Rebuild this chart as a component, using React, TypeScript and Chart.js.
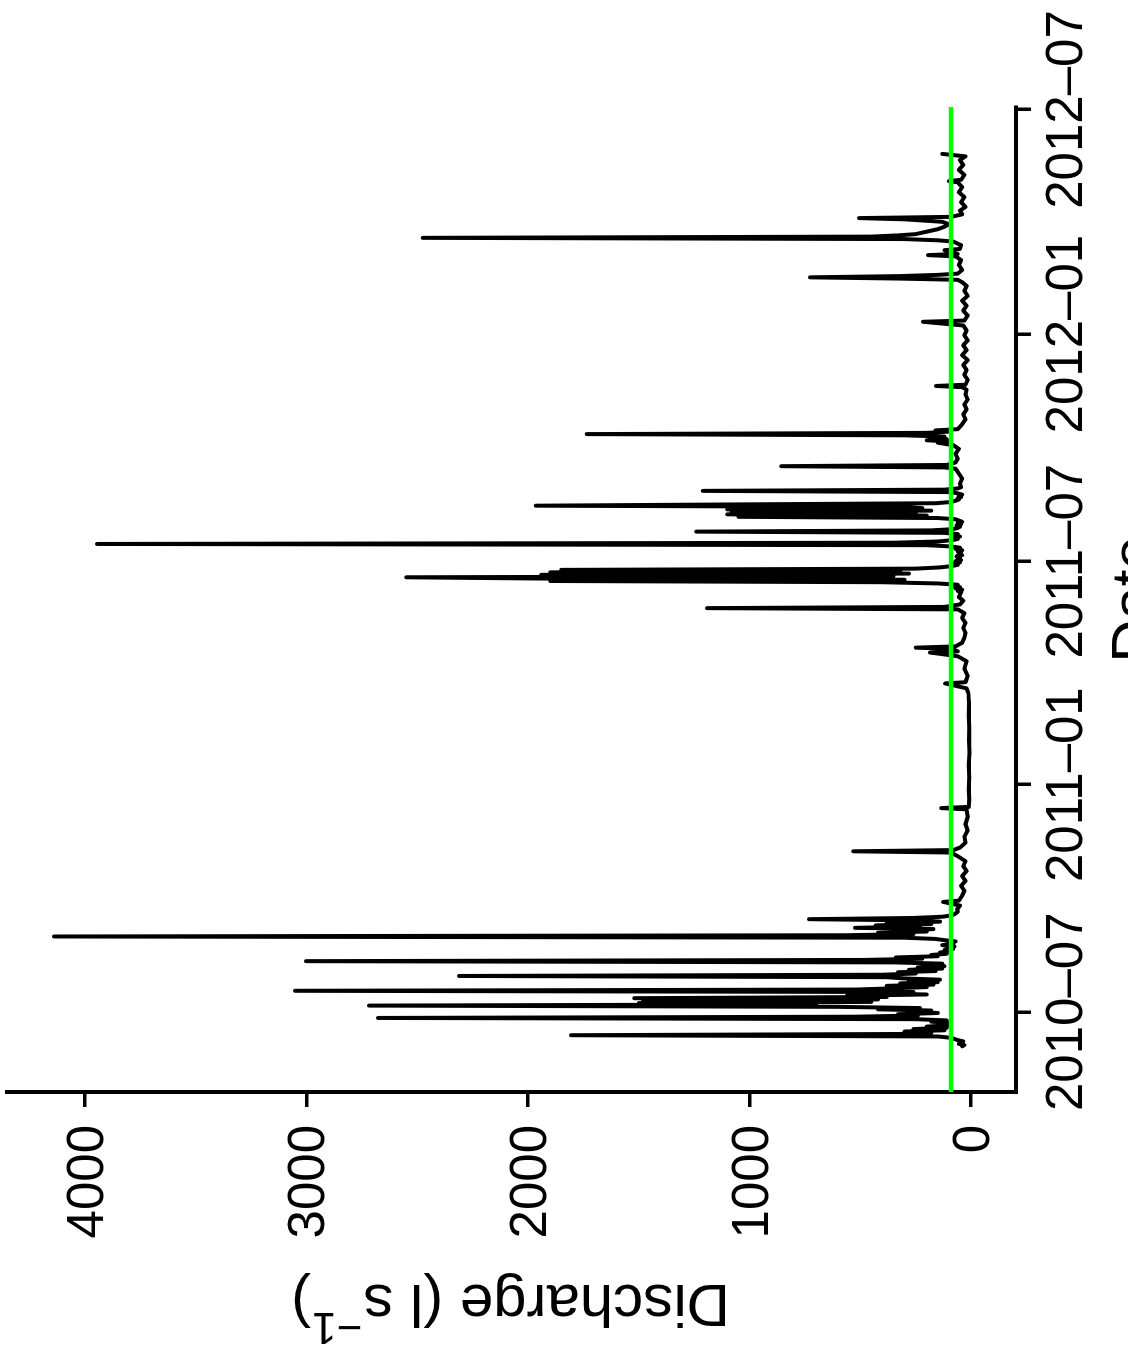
import { useEffect, useRef } from "react";
import { Chart, registerables } from "chart.js";

Chart.register(...registerables);

const FONT = "'Liberation Sans', Arial, Helvetica, sans-serif";

// Date axis ticks and their labels
const dateTicks = ["2010-07-01", "2011-01-01", "2011-07-01", "2012-01-01", "2012-07-01"];
const dateTickLabels = ["2010–07", "2011–01", "2011–07", "2012–01", "2012–07"];
const dateAxisStart = "2010-04-27";
const dateAxisEnd = "2012-07-03";

// Discharge axis ticks (l/s)
const dischargeTicks = [0, 1000, 2000, 3000, 4000];
const dischargeAxisMin = -203;
const dischargeAxisMax = 4352;

// Reference discharge level (l/s)
const baseflowThreshold = 90;

// Daily discharge through the 2010 melt season, first value on 2010-06-03
const season2010Start = "2010-06-03";
const season2010Flow = [
  40, 30, 55, 45, 35, 60, 75, 95, 150, 1806, 320, 180, 300, 120, 260, 110, 200, 100, 150, 90,
  180, 110, 250, 2677, 520, 240, 330, 150,
  280, 180, 420, 230, 600, 2718, 700, 1500, 450, 1480, 420, 1520, 380, 560, 200, 450, 260, 3052, 520, 350,
  200, 380, 170, 320, 150, 280, 140, 300, 380, 2311, 400, 250, 330, 160, 280, 130, 240, 120, 200, 130,
  350, 3002, 480, 220, 340, 150, 180, 110, 140, 90, 120, 80, 110, 75, 130, 80, 100, 70, 120, 160,
  300, 4140, 560, 260, 420, 200, 330, 170, 524, 230, 430, 180, 380, 140, 220, 731, 260, 130, 90, 75,
];

// Low-flow readings, autumn 2010 to spring 2011
const lowFlow2010Dates = [
  "2010-09-20", "2010-09-22", "2010-09-25", "2010-09-28", "2010-09-29", "2010-10-03", "2010-10-07",
  "2010-10-11", "2010-10-15", "2010-10-19", "2010-10-23", "2010-10-27", "2010-10-31", "2010-11-04",
  "2010-11-07", "2010-11-08", "2010-11-09", "2010-11-11", "2010-11-15", "2010-11-20", "2010-11-25",
  "2010-11-30", "2010-12-06", "2010-12-12", "2010-12-13", "2010-12-14", "2010-12-20", "2010-12-28",
  "2011-01-07", "2011-01-17", "2011-01-27", "2011-02-06", "2011-02-16", "2011-02-26", "2011-03-08",
  "2011-03-16", "2011-03-20", "2011-03-24", "2011-03-25", "2011-03-30", "2011-04-05", "2011-04-11",
  "2011-04-15", "2011-04-17", "2011-04-18", "2011-04-19", "2011-04-21", "2011-04-22", "2011-04-23",
  "2011-04-26", "2011-04-30", "2011-05-04", "2011-05-08", "2011-05-12", "2011-05-16", "2011-05-20",
  "2011-05-23", "2011-05-24", "2011-05-25", "2011-05-27", "2011-05-30", "2011-06-02",
];
const lowFlow2010Flow = [
  60, 63, 50, 126, 55, 40, 30,
  45, 25, 40, 20, 35, 25, 60,
  90, 532, 80, 50, 25, 30, 15,
  25, 15, 20, 135, 10, 8, 10,
  8, 10, 7, 9, 8, 10, 9,
  12, 20, 117, 25, 15, 30, 20,
  60, 140, 185, 60, 90, 250, 70,
  40, 30, 25, 35, 25, 40, 30,
  60, 1192, 120, 50, 35, 55,
];

// Daily discharge through the 2011 melt season, first value on 2011-06-06
const season2011Start = "2011-06-06";
const season2011Flow = [
  45, 60, 40, 70, 50, 90, 60, 150, 400, 1900,
  300, 1950, 2550, 350, 1940, 280, 1900, 320, 1850, 250,
  140, 90, 60, 80, 50, 70, 45, 60, 50, 65,
  40, 55, 45, 60, 40, 70, 50, 90, 200, 3946,
  350, 150, 90, 60, 80, 50, 70, 60, 120, 1240,
  180, 80, 60, 50, 65, 45, 60, 40, 55, 70,
  150, 1050, 200, 1100, 250, 1080, 180, 1100, 220, 300,
  1965, 1090, 160, 90, 70, 55, 60, 45, 55, 40,
  60, 90, 1211, 120, 60, 45,
];

// Readings from autumn 2011 to the end of the record
const lowFlow2011Dates = [
  "2011-09-02", "2011-09-06", "2011-09-10", "2011-09-14", "2011-09-15", "2011-09-16", "2011-09-17",
  "2011-09-19", "2011-09-22", "2011-09-26", "2011-09-30", "2011-10-03", "2011-10-05", "2011-10-06",
  "2011-10-07", "2011-10-08", "2011-10-09", "2011-10-10", "2011-10-11", "2011-10-12", "2011-10-13",
  "2011-10-14", "2011-10-15", "2011-10-16", "2011-10-20", "2011-10-24", "2011-10-28", "2011-11-01",
  "2011-11-05", "2011-11-09", "2011-11-13", "2011-11-17", "2011-11-19", "2011-11-20", "2011-11-21",
  "2011-11-25", "2011-11-29", "2011-12-03", "2011-12-07", "2011-12-11", "2011-12-15", "2011-12-19",
  "2011-12-23", "2011-12-27", "2011-12-31", "2012-01-04", "2012-01-08", "2012-01-11", "2012-01-12",
  "2012-01-16", "2012-01-20", "2012-01-24", "2012-01-28", "2012-02-01", "2012-02-05", "2012-02-09",
  "2012-02-12", "2012-02-14", "2012-02-15", "2012-02-16", "2012-02-17", "2012-02-18", "2012-02-19",
  "2012-02-22", "2012-02-26", "2012-03-01", "2012-03-04", "2012-03-05", "2012-03-06", "2012-03-09",
  "2012-03-10", "2012-03-13", "2012-03-16", "2012-03-17", "2012-03-18", "2012-03-19", "2012-03-20",
  "2012-03-21", "2012-03-22", "2012-03-24", "2012-03-26", "2012-03-28", "2012-03-30", "2012-04-01",
  "2012-04-03", "2012-04-04", "2012-04-05", "2012-04-07", "2012-04-10", "2012-04-13", "2012-04-17",
  "2012-04-21", "2012-04-25", "2012-04-29", "2012-05-03", "2012-05-04", "2012-05-05", "2012-05-09",
  "2012-05-13", "2012-05-17", "2012-05-21", "2012-05-24", "2012-05-26",
];
const lowFlow2011Flow = [
  50, 40, 55, 70, 120, 857, 110,
  70, 60, 70, 55, 80, 150, 95,
  200, 110, 180, 120, 300, 1735, 200,
  100, 160, 60, 40, 25, 35, 20,
  30, 15, 25, 20, 40, 158, 25,
  15, 30, 20, 35, 15, 40, 20,
  35, 15, 30, 20, 35, 217, 30,
  15, 35, 20, 40, 15, 30, 20,
  40, 60, 325, 727, 320, 150, 60,
  40, 55, 45, 70, 194, 60, 120,
  50, 45, 80, 150, 300, 2475, 450,
  330, 250, 200, 150, 120, 100, 130,
  300, 506, 90, 40, 50, 25, 45,
  30, 55, 40, 60, 100, 45, 30,
  55, 35, 50, 25, 130,
];

const DAY_MS = 86400000;
const AXIS_ORIGIN = Date.UTC(2010, 6, 1);

// Days since 2010-07-01 for an ISO date
function dayIndex(iso: string): number {
  const [y, m, d] = iso.split("-").map(Number);
  return (Date.UTC(y, m - 1, d) - AXIS_ORIGIN) / DAY_MS;
}

function dailyPoints(start: string, values: number[]) {
  const s = dayIndex(start);
  return values.map((v, i) => ({ x: s + i, y: v }));
}

function datedPoints(dates: string[], values: number[]) {
  return dates.map((d, i) => ({ x: dayIndex(d), y: values[i] }));
}

const rLabels = {
  id: "rLabels",
  afterDraw(chart: any) {
    const { ctx, chartArea, scales } = chart;
    const xs = scales.x;
    const ys = scales.y;
    ctx.save();
    ctx.fillStyle = "#000";
    ctx.textBaseline = "alphabetic";

    // tick labels
    ctx.font = `51px ${FONT}`;
    ctx.textAlign = "right";
    dischargeTicks.forEach((v) => {
      ctx.fillText(String(v), chartArea.left - 33, ys.getPixelForValue(v) + 18);
    });
    ctx.textAlign = "center";
    dateTicks.forEach((d, i) => {
      ctx.fillText(dateTickLabels[i], xs.getPixelForValue(dayIndex(d)), chartArea.bottom + 66);
    });

    // x title
    ctx.font = `60px ${FONT}`;
    ctx.fillText("Date", (chartArea.left + chartArea.right) / 2, chartArea.bottom + 137);

    // y title with superscript unit
    ctx.translate(chartArea.left - 193, (chartArea.top + chartArea.bottom) / 2);
    ctx.rotate(-Math.PI / 2);
    ctx.textAlign = "left";
    const main = "Discharge (l s";
    const sup = "−1";
    const close = ")";
    ctx.font = `60px ${FONT}`;
    const w1 = ctx.measureText(main).width;
    const w3 = ctx.measureText(close).width;
    ctx.font = `44px ${FONT}`;
    const w2 = ctx.measureText(sup).width;
    const x0 = -(w1 + w2 + w3) / 2;
    ctx.font = `60px ${FONT}`;
    ctx.fillText(main, x0, 0);
    ctx.font = `44px ${FONT}`;
    ctx.fillText(sup, x0 + w1 + 1, -28);
    ctx.font = `60px ${FONT}`;
    ctx.fillText(close, x0 + w1 + w2 + 2, 0);
    ctx.restore();
  },
};

export default function App() {
  const ref = useRef<HTMLCanvasElement>(null);

  useEffect(() => {
    const flow = [
      ...dailyPoints(season2010Start, season2010Flow),
      ...datedPoints(lowFlow2010Dates, lowFlow2010Flow),
      ...dailyPoints(season2011Start, season2011Flow),
      ...datedPoints(lowFlow2011Dates, lowFlow2011Flow),
    ];
    const xMin = dayIndex(dateAxisStart);
    const xMax = dayIndex(dateAxisEnd);

    const axisGrid = {
      display: true,
      drawOnChartArea: false,
      drawTicks: true,
      tickLength: 15,
      lineWidth: 3.5,
      color: "#000",
    };
    const axisBorder = { display: true, width: 4, color: "#000" };

    const chart = new Chart(ref.current!, {
      type: "line",
      data: {
        datasets: [
          {
            data: [
              { x: xMin, y: baseflowThreshold },
              { x: xMax, y: baseflowThreshold },
            ],
            borderColor: "#00ff00",
            borderWidth: 4.5,
            pointRadius: 0,
            order: 0,
          },
          {
            data: flow,
            borderColor: "#000",
            borderWidth: 4,
            pointRadius: 0,
            tension: 0,
            borderJoinStyle: "round",
            borderCapStyle: "round",
            order: 1,
          },
        ],
      },
      options: {
        animation: false,
        responsive: false,
        devicePixelRatio: 1,
        events: [],
        layout: { padding: { left: 254, right: 107, top: 7, bottom: 97 } },
        plugins: { legend: { display: false }, tooltip: { enabled: false } },
        scales: {
          x: {
            type: "linear",
            min: xMin,
            max: xMax,
            grid: axisGrid,
            border: axisBorder,
            ticks: { display: false },
            afterBuildTicks: (s: any) => {
              s.ticks = dateTicks.map((d) => ({ value: dayIndex(d) }));
            },
          },
          y: {
            type: "linear",
            min: dischargeAxisMin,
            max: dischargeAxisMax,
            grid: axisGrid,
            border: axisBorder,
            ticks: { display: false },
            afterBuildTicks: (s: any) => {
              s.ticks = dischargeTicks.map((v) => ({ value: v }));
            },
          },
        },
      },
      plugins: [rLabels],
    } as any);
    return () => chart.destroy();
  }, []);

  return (
    <div
      style={{
        position: "fixed",
        left: 0,
        top: 0,
        width: 1128,
        height: 1361,
        overflow: "hidden",
        background: "#fff",
      }}
    >
      <div
        style={{
          position: "absolute",
          left: 0,
          top: 0,
          width: 1361,
          height: 1128,
          transformOrigin: "0 0",
          transform: "translate(0px, 1361px) rotate(-90deg)",
        }}
      >
        <canvas ref={ref} width={1361} height={1128} style={{ display: "block", width: 1361, height: 1128 }} />
      </div>
    </div>
  );
}
